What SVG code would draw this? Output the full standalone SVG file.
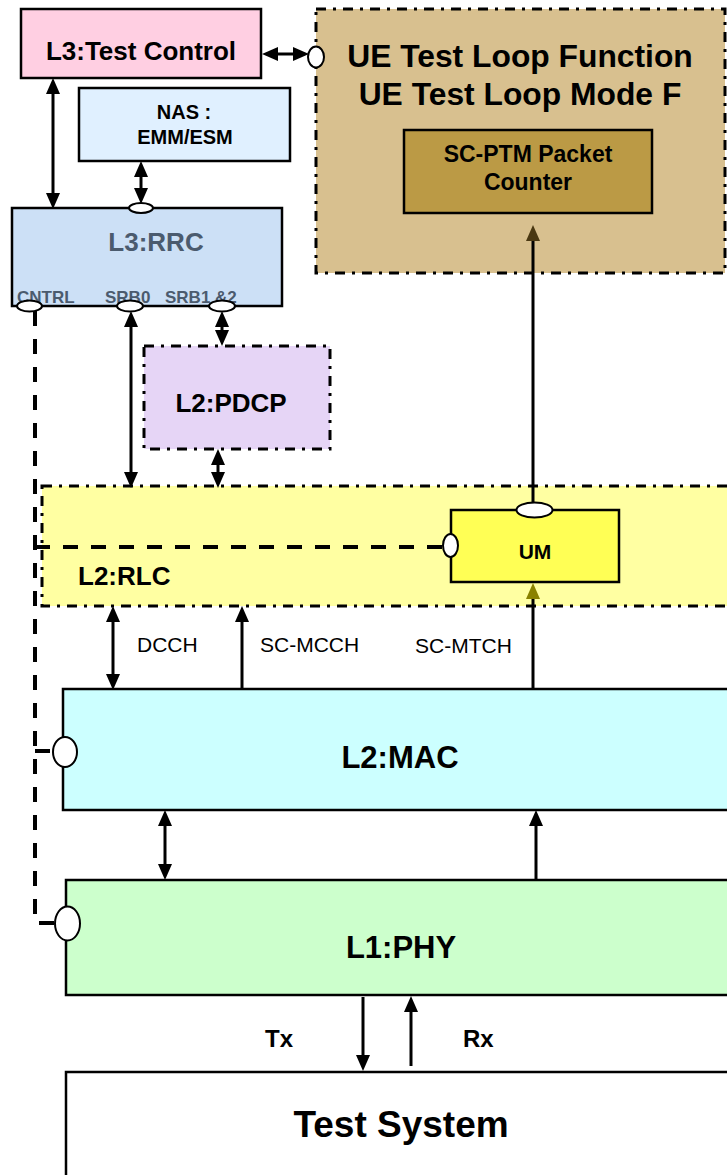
<svg xmlns="http://www.w3.org/2000/svg" width="727" height="1175" viewBox="0 0 727 1175">
<style>
text{font-family:"Liberation Sans",Arial,sans-serif;font-weight:bold;fill:#000}
.box{stroke:#000;stroke-width:2.5}
.dd{stroke:#000;stroke-width:3;stroke-dasharray:10 7 3 7}
.c{fill:none;stroke:#000;stroke-width:3}
.dash{fill:none;stroke:#000;stroke-width:4;stroke-dasharray:15 13}
.port{fill:#fff;stroke:#000;stroke-width:2}
.mid{text-anchor:middle}
.reg{font-weight:normal}
.slate{fill:#4b5b6e}
</style>
<defs>
<marker id="ah" viewBox="0 0 16 14" refX="7" refY="7" markerWidth="16" markerHeight="14" markerUnits="userSpaceOnUse" orient="auto-start-reverse"><path d="M0,0 L16,7 L0,14 z" fill="#000"/></marker>
<marker id="ahb" viewBox="0 0 16 14" refX="7" refY="7" markerWidth="16" markerHeight="14" markerUnits="userSpaceOnUse" orient="auto-start-reverse"><path d="M0,0 L16,7 L0,14 z" fill="#4a3812"/></marker>
<marker id="aho" viewBox="0 0 16 14" refX="7" refY="7" markerWidth="16" markerHeight="14" markerUnits="userSpaceOnUse" orient="auto-start-reverse"><path d="M0,0 L16,7 L0,14 z" fill="#8a8200"/></marker>
</defs>

<g id="test-control">
<rect class="box" x="21" y="9" width="240" height="69" fill="#ffcfe2"/>
<text class="mid" x="141" y="60" font-size="26">L3:Test Control</text>
</g>

<g id="ue-test-loop">
<rect class="dd" x="316" y="9" width="409" height="264" fill="#d8c08f"/>
<text class="mid" x="520" y="67" font-size="31.8">UE Test Loop Function</text>
<text class="mid" x="520" y="105" font-size="31.8">UE Test Loop Mode F</text>
</g>

<g id="packet-counter">
<rect class="box" x="404" y="130" width="248" height="83" fill="#bb9a45" stroke-width="2"/>
<text class="mid" x="528" y="162" font-size="23">SC-PTM Packet</text>
<text class="mid" x="528" y="190" font-size="23">Counter</text>
</g>

<g id="nas">
<rect class="box" x="79" y="88" width="211" height="73" fill="#e0f0ff" stroke-width="2"/>
<text class="mid" x="184" y="119" font-size="20">NAS :</text>
<text class="mid" x="185" y="144" font-size="20">EMM/ESM</text>
</g>

<g id="rrc">
<rect class="box" x="12" y="208" width="270" height="98" fill="#cce0f6"/>
<text class="mid slate" x="156" y="251" font-size="26">L3:RRC</text>
<text class="slate" x="17" y="303" font-size="17">CNTRL</text>
<text class="slate" x="105" y="303" font-size="17">SRB0</text>
<text class="slate" x="165" y="303" font-size="17">SRB1 &amp;2</text>
</g>

<g id="pdcp">
<rect class="dd" x="144" y="346" width="186" height="103" fill="#e6d5f6" stroke-width="2.5"/>
<text class="mid" x="231" y="412" font-size="26">L2:PDCP</text>
</g>

<g id="rlc">
<rect class="dd" x="42" y="486" width="700" height="120" fill="#ffffa2"/>
<text x="78" y="585" font-size="26">L2:RLC</text>
</g>

<g id="um">
<rect class="box" x="451" y="510" width="168" height="72" fill="#ffff55" stroke-width="2"/>
<text class="mid" x="535" y="559" font-size="21">UM</text>
</g>

<g id="mac">
<rect class="box" x="63" y="689" width="680" height="121" fill="#ccffff"/>
<text class="mid" x="400" y="768" font-size="31">L2:MAC</text>
</g>

<g id="phy">
<rect class="box" x="66" y="880" width="680" height="115" fill="#ccffcc"/>
<text class="mid" x="401" y="958" font-size="31">L1:PHY</text>
</g>

<g id="test-system">
<rect class="box" x="66" y="1072" width="680" height="120" fill="#fff"/>
<text class="mid" x="401" y="1137" font-size="37">Test System</text>
</g>

<g id="connectors">
<path class="c" d="M271,54 H300" marker-start="url(#ah)" marker-end="url(#ah)"/>
<path class="c" d="M53,87 V200" marker-start="url(#ah)" marker-end="url(#ah)"/>
<path class="c" d="M141,170 V195" marker-start="url(#ah)" marker-end="url(#ah)"/>
<path class="c" d="M131,320 V479" marker-start="url(#ah)" marker-end="url(#ah)"/>
<path class="c" d="M222,320 V337" marker-start="url(#ah)" marker-end="url(#ah)"/>
<path class="c" d="M218,458 V479" marker-start="url(#ah)" marker-end="url(#ah)"/>
<path class="c" d="M113,615 V681" marker-start="url(#ah)" marker-end="url(#ah)"/>
<path class="c" d="M242,689 V615" marker-end="url(#ah)"/>
<path class="c" d="M533,689 V606"/>
<path class="c" d="M533,606 V592" stroke="#8a8200" marker-end="url(#aho)"/>
<path class="c" d="M533,503 V486" stroke="#8a8200"/>
<path class="c" d="M533,486 V273"/>
<path class="c" d="M533,273 V234" stroke="#3a2a0e" marker-end="url(#ahb)"/>
<path class="c" d="M165,819 V871" marker-start="url(#ah)" marker-end="url(#ah)"/>
<path class="c" d="M536,880 V819" marker-end="url(#ah)"/>
<path class="c" d="M363,997 V1062" marker-end="url(#ah)"/>
<path class="c" d="M411,1066 V1005" marker-end="url(#ah)"/>
<path class="dash" d="M35,311 V923 H55"/>
<path class="dash" d="M35,751 H53" stroke-dasharray="none"/>
<path class="dash" d="M35,547 H443"/>
<ellipse class="port" cx="316" cy="57" rx="8" ry="10.5"/>
<ellipse class="port" cx="141" cy="208" rx="12" ry="5"/>
<ellipse class="port" cx="29.5" cy="306" rx="12.5" ry="5.5"/>
<ellipse class="port" cx="130" cy="306" rx="13" ry="5.5"/>
<ellipse class="port" cx="222" cy="306" rx="13" ry="5.5"/>
<ellipse class="port" cx="534.5" cy="510" rx="18" ry="7.5"/>
<ellipse class="port" cx="450.5" cy="545.5" rx="7.5" ry="11.5"/>
<ellipse class="port" cx="65" cy="752" rx="12" ry="15"/>
<ellipse class="port" cx="67.5" cy="923.5" rx="12.5" ry="17"/>
<text class="reg" x="137" y="652" font-size="21">DCCH</text>
<text class="reg" x="260" y="652" font-size="21">SC-MCCH</text>
<text class="reg" x="415" y="653" font-size="21">SC-MTCH</text>
<text x="265" y="1047" font-size="24">Tx</text>
<text x="463" y="1047" font-size="24">Rx</text>
</g>
</svg>
